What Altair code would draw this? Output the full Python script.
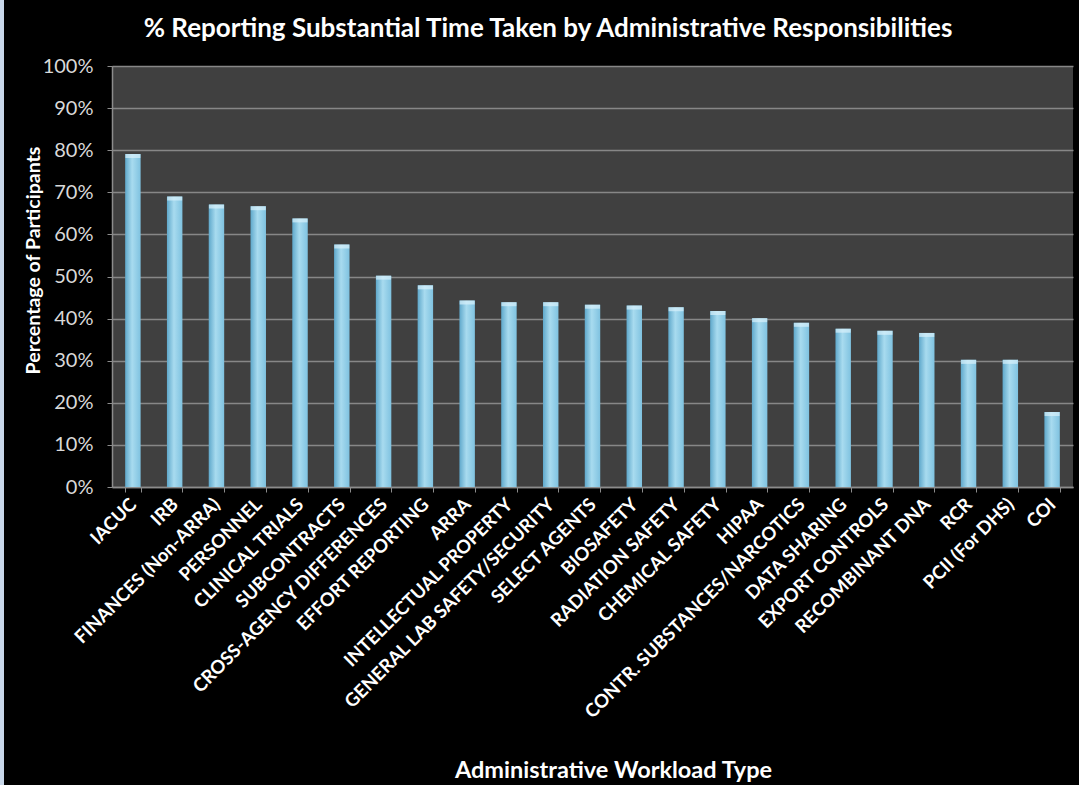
import altair as alt
import pandas as pd

# Administrative responsibility types, ordered as charted
categories = [
    "IACUC", "IRB", "FINANCES (Non-ARRA)", "PERSONNEL", "CLINICAL TRIALS",
    "SUBCONTRACTS", "CROSS-AGENCY DIFFERENCES", "EFFORT REPORTING", "ARRA",
    "INTELLECTUAL PROPERTY", "GENERAL LAB SAFETY/SECURITY", "SELECT AGENTS",
    "BIOSAFETY", "RADIATION SAFETY", "CHEMICAL SAFETY", "HIPAA",
    "CONTR. SUBSTANCES/NARCOTICS", "DATA SHARING", "EXPORT CONTROLS",
    "RECOMBINANT DNA", "RCR", "PCII (For DHS)", "COI",
]

# Share of participants reporting substantial time taken
values = [
    0.791, 0.690, 0.671, 0.667, 0.638,
    0.576, 0.502, 0.479, 0.443,
    0.439, 0.439, 0.433,
    0.431, 0.427, 0.418, 0.401,
    0.390, 0.376, 0.371,
    0.366, 0.302, 0.302, 0.178,
]

y_ticks = [0, 0.1, 0.2, 0.3, 0.4, 0.5, 0.6, 0.7, 0.8, 0.9, 1.0]

chart_title = ["% Reporting Substantial Time Taken by Administrative Responsibilities"]

df = pd.DataFrame({"type": categories, "pct": values})
title_df = pd.DataFrame({"label": chart_title})

FONT = "Lato"
PLOT_W, PLOT_H = 961, 421
LEFT, TOP = 112, 66

x_enc = alt.X(
    "type:N",
    sort=categories,
    title="Administrative Workload Type",
    scale=alt.Scale(paddingInner=0.63, paddingOuter=0.315),
    axis=alt.Axis(
        labelAngle=-45,
        labelAlign="right",
        labelBaseline="middle",
        labelFont=FONT,
        labelFontSize=18.5,
        labelFontWeight="bold",
        labelColor="#ffffff",
        labelPadding=9,
        labelLimit=500,
        tickBand="extent",
        tickColor="#8c8c8c",
        tickSize=5,
        domainColor="#8c8c8c",
        domainWidth=1.5,
        titleFont=FONT,
        titleFontSize=23.5,
        titleFontWeight="bold",
        titleColor="#ffffff",
        titleX=501,
        titleY=283,
        titleAlign="center",
        titleBaseline="middle",
    ),
)

y_enc = alt.Y(
    "pct:Q",
    scale=alt.Scale(domain=[0, 1]),
    title="Percentage of Participants",
    axis=alt.Axis(
        values=y_ticks,
        format=".0%",
        labelFont=FONT,
        labelFontSize=20,
        labelColor="#d9d9d9",
        labelPadding=14,
        tickColor="#8c8c8c",
        tickSize=5,
        domainColor="#8c8c8c",
        domainWidth=1.5,
        grid=True,
        gridColor="#878787",
        gridWidth=1.6,
        titleFont=FONT,
        titleFontSize=19.5,
        titleFontWeight="bold",
        titleColor="#ffffff",
        titleAngle=-90,
        titleX=-79,
        titleY=194,
        titleAlign="center",
        titleBaseline="middle",
    ),
)

bar_fill = alt.Gradient(
    gradient="linear",
    x1=0, x2=1, y1=0, y2=0,
    stops=[
        alt.GradientStop(color="#5fa8cb", offset=0),
        alt.GradientStop(color="#a8dbef", offset=0.45),
        alt.GradientStop(color="#7fc2e0", offset=1),
    ],
)

bars = alt.Chart(df).mark_bar(color=bar_fill).encode(x=x_enc, y=y_enc)

# light rim at the top of each column
caps = alt.Chart(df).mark_tick(
    color="#d8f1fb", thickness=4, size=15, yOffset=2
).encode(x=alt.X("type:N", sort=categories), y=alt.Y("pct:Q"))

# chart heading above the plot
heading = alt.Chart(title_df).mark_text(
    font=FONT, fontSize=26, fontWeight="bold", color="#ffffff",
    align="center", baseline="alphabetic",
).encode(x=alt.value(436), y=alt.value(-29), text="label:N")

# thin pale strip along the left edge of the slide
edge = alt.Chart(df).mark_rect(color="#c9d8ea").encode(
    x=alt.value(-LEFT), x2=alt.value(-LEFT + 4),
    y=alt.value(-TOP), y2=alt.value(785 - TOP),
)

chart = (
    alt.layer(bars, caps, heading, edge)
    .properties(
        width=PLOT_W,
        height=PLOT_H,
        background="#000000",
        padding={"left": LEFT, "top": TOP, "right": 1079 - LEFT - PLOT_W, "bottom": 785 - TOP - PLOT_H},
        autosize=alt.AutoSizeParams(type="none"),
    )
    .configure_view(fill="#404040", stroke=None)
)

chart.save("out.html", embed_options={"renderer": "svg", "actions": False})
